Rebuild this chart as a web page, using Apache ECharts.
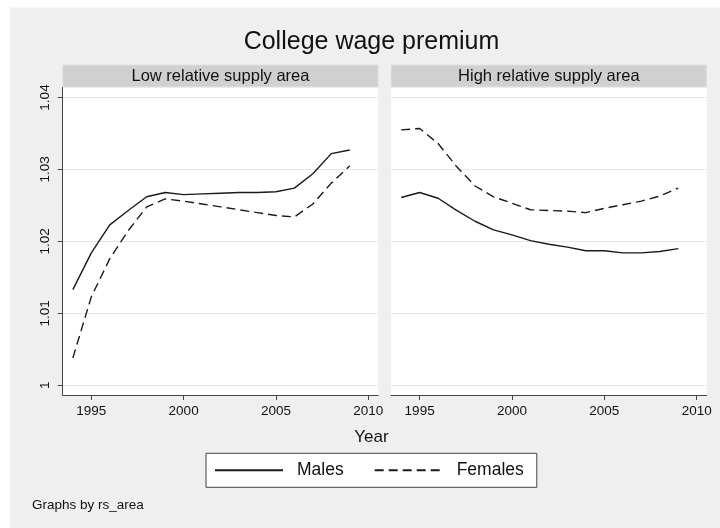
<!DOCTYPE html>
<html>
<head>
<meta charset="utf-8">
<script src="https://cdn.jsdelivr.net/npm/echarts@6/dist/echarts.min.js"></script>
<style>
html,body{margin:0;padding:0;background:#fff;}
#c{width:720px;height:528px;}
</style>
</head>
<body>
<div id="c"></div>
<script>
const years = [1994,1995,1996,1997,1998,1999,2000,2001,2002,2003,2004,2005,2006,2007,2008,2009];
const lowMales    = [1.0133,1.0184,1.0223,1.0243,1.0262,1.0268,1.0265,1.0266,1.0267,1.0268,1.0268,1.0269,1.0274,1.0294,1.0322,1.0327];
const lowFemales  = [1.0038,1.0123,1.0176,1.0215,1.0248,1.0259,1.0256,1.0252,1.0248,1.0244,1.0240,1.0236,1.0234,1.0252,1.0281,1.0305];
const highMales   = [1.0261,1.0268,1.0260,1.0243,1.0228,1.0216,1.0209,1.0201,1.0196,1.0192,1.0187,1.0187,1.0184,1.0184,1.0186,1.0190];
const highFemales = [1.0355,1.0357,1.0336,1.0304,1.0277,1.0262,1.0253,1.0244,1.0243,1.0242,1.0240,1.0246,1.0251,1.0256,1.0263,1.0274];
const yTicks = [1, 1.01, 1.02, 1.03, 1.04];
const xTicks = [1995, 2000, 2005, 2010];
const panelTitles = ['Low relative supply area', 'High relative supply area'];
const seriesNames = ['Males', 'Females'];

const FONT = '"Liberation Sans", Arial, Helvetica, sans-serif';
const lineColor = '#1a1a1a';
const pair = (ys) => years.map((y, i) => [y, ys[i]]);

const gridTop = 87.5, gridH = 307.5;
const grids = [
  {left: 62.7, top: gridTop, width: 315.5, height: gridH},
  {left: 391, top: gridTop, width: 315.7, height: gridH}
];

const chart = echarts.init(document.getElementById('c'), null, {renderer: 'canvas'});

function xAx(idx) {
  return {
    type: 'value', gridIndex: idx, min: 1993.45, max: 2010.54,
    axisLine: {show: true, onZero: false, lineStyle: {color: '#444', width: 1}},
    axisTick: {show: true, length: 5, customValues: xTicks, lineStyle: {color: '#444'}},
    axisLabel: {show: true, customValues: xTicks, margin: 9, fontSize: 13.5, color: '#111', fontFamily: FONT, formatter: v => String(v)},
    splitLine: {show: false}
  };
}
function yAx(idx) {
  return {
    type: 'value', gridIndex: idx, min: 0.99865, max: 1.04139,
    axisLine: {show: idx === 0, lineStyle: {color: '#444', width: 1}},
    axisTick: {show: idx === 0, length: 5, customValues: yTicks, lineStyle: {color: '#444'}},
    axisLabel: {show: idx === 0, customValues: yTicks, rotate: 90, margin: 10, fontSize: 13.5, color: '#111', fontFamily: FONT,
      formatter: v => String(Math.round(v * 100) / 100)},
    splitLine: {show: true, lineStyle: {color: '#e6e6e6', width: 1}}
  };
}

function mkSeries(name, data, gi, dashed) {
  return {
    name: name, type: 'line', xAxisIndex: gi, yAxisIndex: gi, data: pair(data),
    showSymbol: false, symbol: 'none', smooth: false,
    lineStyle: {color: lineColor, width: 1.4, type: dashed ? [9, 5] : 'solid'},
    itemStyle: {color: lineColor},
    emphasis: {disabled: true}
  };
}

const headerGraphics = grids.map((g, i) => ({
  type: 'group', children: [
    {type: 'rect', shape: {x: g.left, y: 65, width: g.width, height: 22},
     style: {fill: '#d0d0d0', stroke: '#dbe3e8', lineWidth: 1}},
    {type: 'text', x: g.left + g.width / 2, y: 76,
     style: {text: panelTitles[i], fill: '#111', font: '16.5px ' + FONT, textAlign: 'center', textVerticalAlign: 'middle'}}
  ]
}));

chart.setOption({
  animation: false,
  backgroundColor: '#fff',
  grid: grids.map(g => Object.assign({show: true, backgroundColor: '#fff', borderWidth: 0, containLabel: false}, g)),
  xAxis: [xAx(0), xAx(1)],
  yAxis: [yAx(0), yAx(1)],
  legend: {
    data: seriesNames, left: 206, top: 453.3, orient: 'horizontal',
    padding: [8, 13, 8, 8], itemWidth: 68, itemHeight: 14, itemGap: 30,
    borderColor: '#444', borderWidth: 1, backgroundColor: '#fff',
    itemStyle: {color: 'rgba(0,0,0,0)', borderWidth: 0, opacity: 0},
    textStyle: {fontSize: 17.5, color: '#111', fontFamily: FONT, padding: [0, 0, 0, 9]},
    selectedMode: false
  },
  graphic: [
    {type: 'rect', z: -10, silent: true, shape: {x: 10, y: 7.5, width: 710, height: 521}, style: {fill: '#efefef'}},
    {type: 'text', x: 371.5, y: 42, style: {text: 'College wage premium', fill: '#111', font: '25px ' + FONT, textAlign: 'center', textVerticalAlign: 'middle'}},
    ...headerGraphics,
    {type: 'text', x: 371.5, y: 437, style: {text: 'Year', fill: '#111', font: '17px ' + FONT, textAlign: 'center', textVerticalAlign: 'middle'}},
    {type: 'text', x: 32, y: 505, style: {text: 'Graphs by rs_area', fill: '#111', font: '13.5px ' + FONT, textAlign: 'left', textVerticalAlign: 'middle'}}
  ],
  series: [
    mkSeries('Males', lowMales, 0, false),
    mkSeries('Females', lowFemales, 0, true),
    mkSeries('Males', highMales, 1, false),
    mkSeries('Females', highFemales, 1, true)
  ]
});
</script>
</body>
</html>
